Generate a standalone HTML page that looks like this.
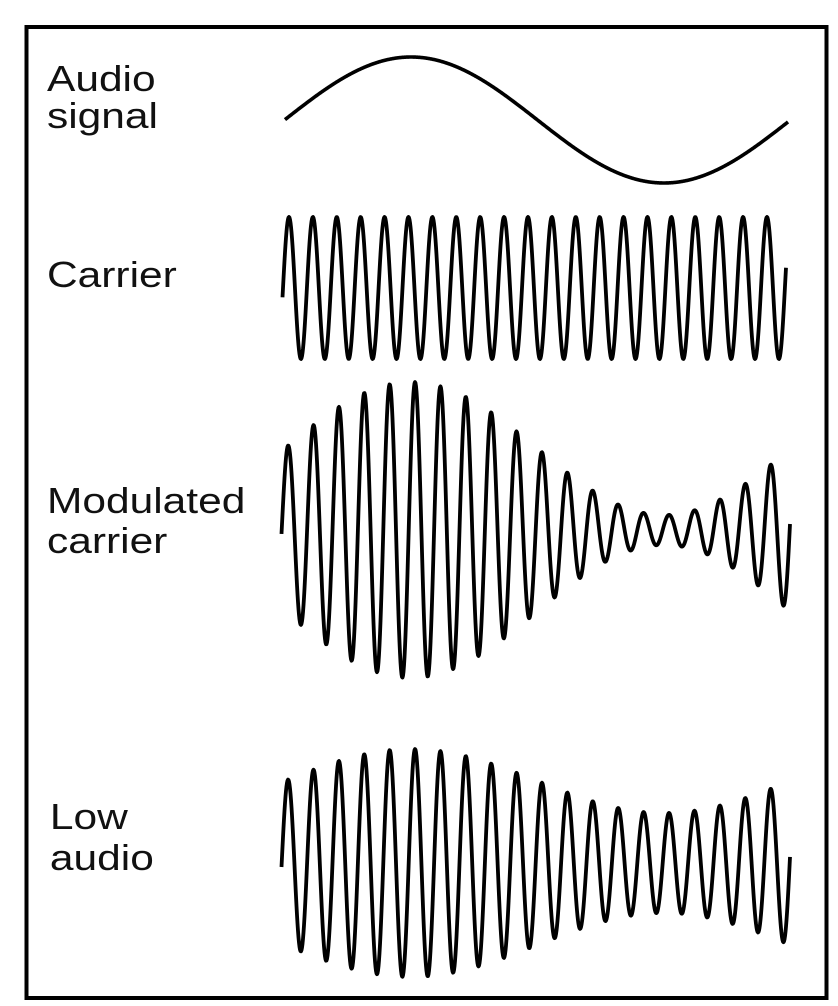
<!DOCTYPE html>
<html><head><meta charset="utf-8"><style>
html,body{margin:0;padding:0;background:#fff}
svg{display:block}
text{font-family:"Liberation Sans",Arial,sans-serif;font-size:36px;fill:#111}
</style></head><body>
<svg id="s" width="838" height="1006" viewBox="0 0 838 1006" xmlns="http://www.w3.org/2000/svg">
<rect x="26.5" y="27" width="800" height="971" fill="none" stroke="#000" stroke-width="4"/>
<g transform="translate(47,0) scale(1.18,1)">
<text x="0" y="91">Audio</text>
<text x="0" y="128">signal</text>
<text x="0" y="287">Carrier</text>
<text x="0" y="513">Modulated</text>
<text x="0" y="553">carrier</text>
<text x="2.5" y="829">Low</text>
<text x="2.5" y="870">audio</text>
</g>
<path id="p1" fill="none" stroke="#000" stroke-width="3.6" stroke-linejoin="round"/>
<path id="p2" fill="none" stroke="#000" stroke-width="3.8" stroke-linejoin="round"/>
<path id="p3" fill="none" stroke="#000" stroke-width="3.8" stroke-linejoin="round"/>
<path id="p4" fill="none" stroke="#000" stroke-width="3.8" stroke-linejoin="round"/>
</svg>
<script>
function s(x){return Math.sin(2*Math.PI*(x-284.5)/506);}
function build(x0,x1,f){var d="";for(var x=x0;x<=x1;x+=0.5){d+=(x==x0?"M":"L")+x.toFixed(1)+" "+f(x).toFixed(2)+" ";}return d;}
document.getElementById("p1").setAttribute("d",build(285,788,function(x){return 120-63*s(x);}));
document.getElementById("p2").setAttribute("d",build(282.5,786,function(x){return 288-71*Math.sin(2*Math.PI*(x-283)/23.9);}));
document.getElementById("p3").setAttribute("d",build(281.5,790,function(x){return 530-(81.5+66.5*s(x))*Math.sin(2*Math.PI*(x-281.7)/25.4);}));
document.getElementById("p4").setAttribute("d",build(281.5,790,function(x){return 863-(82+32*s(x))*Math.sin(2*Math.PI*(x-281.7)/25.4);}));
</script>
</body></html>
